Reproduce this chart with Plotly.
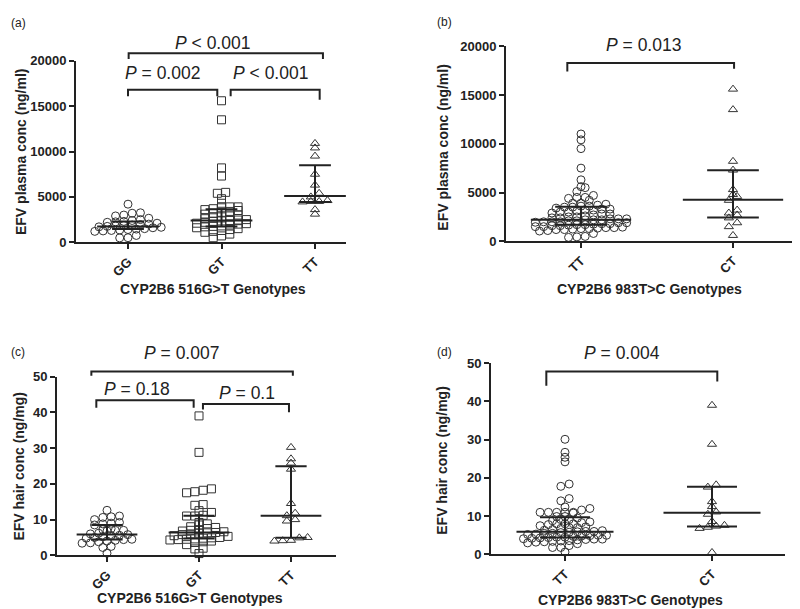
import numpy as np
import plotly.graph_objects as go

W, H = 800, 609
FONT = "Liberation Sans, Arial, sans-serif"
INK = "#222222"

# ---------------- data ----------------
# Panel (a): EFV plasma conc by CYP2B6 516G>T
a_categories = ["GG", "GT", "TT"]
a_GG = [4200, 3250, 3200, 3000, 2900, 2650, 2500, 2400, 2300, 2250, 2200, 2100, 2000, 1950,
        1900, 1850, 1800, 1750, 1700, 1650, 1600, 1500, 1450, 1400, 1350, 1300, 1250, 1200,
        750, 500, 480]
a_GT = [15600, 13500, 8200, 7300, 5500, 5400, 4800, 4300, 3900, 3900, 3800, 3700, 3600, 3500,
        3400, 3300, 3200, 3100, 3000, 2900, 2800, 2700, 2600, 2500, 2450, 2400, 2350, 2300,
        2200, 2100, 2050, 2000, 1900, 1800, 1750, 1700, 1600, 1500, 1400, 1300, 1200, 1100,
        900, 700, 500]
a_TT = [10900, 10400, 9500, 7500, 6300, 5400, 5000, 4600, 4500, 4500, 4450, 3600, 3100]
a_median = [1750, 2400, 5090]
a_q1 = [1470, 1750, 4440]
a_q3 = [2290, 3650, 8490]

# Panel (b): EFV plasma conc by CYP2B6 983T>C
b_categories = ["TT", "CT"]
b_TT = [11000, 10400, 9500, 7500, 6300, 5600, 5500, 5100, 4700, 4500, 4500, 4400,
        4200, 3900, 3900, 3800, 3700, 3600, 3600, 3500, 3500, 3400, 3300, 3300, 3200, 3200,
        3100, 3000, 3000,
        2900, 2800, 2800, 2700, 2600, 2500, 2500, 2400, 2400, 2300, 2300, 2300, 2200, 2200,
        2200, 2100, 2100, 2000, 2000, 2000,
        1950, 1900, 1900, 1800, 1800, 1750, 1700, 1700, 1650, 1600, 1600, 1500, 1500, 1450,
        1400, 1400, 1350, 1300, 1300, 1250, 1200, 1200, 1100, 1050,
        800, 500, 450, 400]
b_CT = [15600, 13500, 8200, 7300, 5300, 4800, 4600, 4200, 3200, 2900, 2700, 2400, 1900, 1500, 600]
b_median = [2200, 4270]
b_q1 = [1700, 2430]
b_q3 = [3530, 7270]

# Panel (c): EFV hair conc by CYP2B6 516G>T
c_categories = ["GG", "GT", "TT"]
c_GG = [12.6, 11.0, 10.8, 10.6, 10.0, 9.2, 9.0, 8.8, 8.5, 7.5, 7.2, 7.0, 7.0, 6.8, 6.2, 6.0,
        5.8, 5.6, 5.5, 5.2, 5.0, 4.8, 4.5, 4.4, 4.2, 4.0, 3.8, 3.5, 3.4, 2.5, 2.2, 0.6]
c_GT = [39.0, 28.8, 18.6, 18.2, 17.8, 17.5, 14.2, 14.0, 12.5, 12.0, 11.2, 11.0, 11.0, 9.2,
        8.8, 8.5, 8.0, 7.8, 7.5, 7.2, 7.0, 6.8, 6.6, 6.4, 6.3, 6.2, 6.0, 5.8, 5.5, 5.3, 5.0,
        4.9, 4.8, 4.6, 4.5, 4.4, 4.3, 4.0, 3.8, 3.6, 3.0, 2.0, 1.8, 0.5]
c_TT = [30.2, 27.0, 25.8, 24.1, 14.5, 11.8, 11.1, 10.0, 9.6, 5.0, 4.9, 4.2, 4.1, 4.0]
c_median = [5.8, 6.4, 11.1]
c_q1 = [4.4, 4.7, 4.9]
c_q3 = [8.5, 11.1, 24.9]

# Panel (d): EFV hair conc by CYP2B6 983T>C
d_categories = ["TT", "CT"]
d_TT = [30.1, 26.7, 25.4, 24.2, 18.4, 17.8, 14.6, 14.0, 12.4, 12.0, 11.6, 11.0, 11.0, 11.0,
        11.0, 11.0, 10.8, 9.9, 9.9, 9.5, 9.1, 9.1, 8.8, 8.5, 8.3, 8.0, 8.0, 8.0, 7.8, 7.5,
        7.2, 7.0, 7.0, 6.8, 6.5, 6.3, 6.2, 6.0, 6.0, 5.9, 5.8, 5.7, 5.5, 5.5, 5.3, 5.2, 5.0,
        5.0, 4.9, 4.8, 4.7, 4.5, 4.5, 4.4, 4.3, 4.2, 4.1, 4.0, 4.0, 3.9, 3.8, 3.6, 3.5, 3.4,
        3.3, 3.2, 3.0, 2.8, 2.3, 1.8, 1.8, 0.6]
d_CT = [39.0, 28.8, 18.2, 17.6, 13.8, 12.5, 11.1, 10.5, 8.6, 7.6, 7.4, 7.1, 6.8, 0.5]
d_median = [5.9, 10.9]
d_q1 = [4.4, 7.3]
d_q3 = [9.7, 17.7]

# ---------------- layout geometry (pixels) ----------------
panels = [
    dict(key="", cats=a_categories, groups=[a_GG, a_GT, a_TT],
         symbols=["circle-open", "square-open", "triangle-up-open"],
         med=a_median, q1=a_q1, q3=a_q3,
         x0=68, x1=338, ytop=47, ybot=233, cpx=[120, 307], ymax=20000, dtick=5000,
         ytitle="EFV plasma conc (ng/ml)", xtitle="CYP2B6 516G>T Genotypes",
         ytitle_pos=(12.5, 141), xtitle_pos=(205, 281), label="(a)", label_pos=(1, 8)),
    dict(key="2", cats=b_categories, groups=[b_TT, b_CT],
         symbols=["circle-open", "triangle-up-open"],
         med=b_median, q1=b_q1, q3=b_q3,
         x0=498, x1=800, ytop=32, ybot=232, cpx=[573, 725], ymax=20000, dtick=5000,
         ytitle="EFV plasma conc (ng/ml)", xtitle="CYP2B6 983T>C Genotypes",
         ytitle_pos=(435, 136), xtitle_pos=(641, 281), label="(b)", label_pos=(427, 7)),
    dict(key="3", cats=c_categories, groups=[c_GG, c_GT, c_TT],
         symbols=["circle-open", "square-open", "triangle-up-open"],
         med=c_median, q1=c_q1, q3=c_q3,
         x0=49, x1=328, ytop=370.7, ybot=554, cpx=[99, 283], ymax=50, dtick=10,
         ytitle="EFV hair conc (ng/mg)", xtitle="CYP2B6 516G>T Genotypes",
         ytitle_pos=(11, 463), xtitle_pos=(182, 598), label="(c)", label_pos=(1, 346)),
    dict(key="4", cats=d_categories, groups=[d_TT, d_CT],
         symbols=["circle-open", "triangle-up-open"],
         med=d_median, q1=d_q1, q3=d_q3,
         x0=483, x1=777, ytop=357, ybot=553, cpx=[557, 704], ymax=50, dtick=10,
         ytitle="EFV hair conc (ng/mg)", xtitle="CYP2B6 983T>C Genotypes",
         ytitle_pos=(434, 457), xtitle_pos=(622, 600), label="(d)", label_pos=(427, 345)),
]

# brackets: (panel, x-left cat, x-right cat, y bar, y left leg end, y right leg end, text, text x cat, text y)
brackets = [
    (0, 0.007, 2.085, 20830, 20215, 20215, "<i>P</i> < 0.001", 0.90, 21940),
    (0, 0.0, 0.955, 16800, 16100, 16100, "<i>P</i> = 0.002", 0.364, 18710),
    (0, 1.098, 2.05, 16800, 16100, 15700, "<i>P</i> < 0.001", 1.52, 18710),
    (1, -0.09, 1.007, 18270, 17400, 17700, "<i>P</i> = 0.013", 0.413, 20130),
    (2, -0.17, 2.02, 51.4, 50.2, 50.2, "<i>P</i> = 0.007", 0.812, 56.6),
    (2, -0.116, 0.942, 43.4, 41.3, 41.3, "<i>P</i> = 0.18", 0.326, 46.6),
    (2, 1.043, 1.978, 42.3, 40.8, 40.0, "<i>P</i> = 0.1", 1.52, 45.5),
    (3, -0.127, 1.036, 47.8, 44.1, 45.2, "<i>P</i> = 0.004", 0.388, 52.6),
]


def swarm(values, px_per_unit, px_per_cat, row=4.2, col=8.3):
    """GraphPad-like row layout: points in the same row band spread symmetrically."""
    ys = np.asarray(values, dtype=float) * px_per_unit
    order = np.argsort(ys)
    xs = np.zeros(len(ys))
    rows = []
    for i in order:
        if rows and ys[i] - ys[rows[-1][0]] < row:
            rows[-1].append(i)
        else:
            rows.append([i])
    for r in rows:
        n = len(r)
        for j, i in enumerate(r):
            xs[i] = (j - (n - 1) / 2) * col
    return xs / px_per_cat


fig = go.Figure()
layout = dict(width=W, height=H, margin=dict(l=0, r=0, t=0, b=0),
              paper_bgcolor="white", plot_bgcolor="white", showlegend=False)
shapes, annotations = [], []

for p in panels:
    n = len(p["cats"])
    sp = (p["cpx"][1] - p["cpx"][0]) / (n - 1)
    r0 = -(p["cpx"][0] - p["x0"]) / sp
    r1 = (p["x1"] - p["cpx"][0]) / sp
    p["r"] = (r0, r1)
    dx = (p["x0"] / W, p["x1"] / W)
    dy = (1 - p["ybot"] / H, 1 - p["ytop"] / H)
    p["dx"], p["dy"] = dx, dy
    px_per_unit = (p["ybot"] - p["ytop"]) / p["ymax"]
    k = p["key"]
    xa, ya = "x" + k, "y" + k

    for i, (vals, sym) in enumerate(zip(p["groups"], p["symbols"])):
        offs = swarm(vals, px_per_unit, sp)
        fig.add_trace(go.Scatter(
            x=i + offs, y=vals, mode="markers", xaxis=xa, yaxis=ya, cliponaxis=False,
            marker=dict(symbol=sym, size=8, color="#333333", line=dict(width=1, color="#333333")),
            hoverinfo="y"))

    lx, ly = [], []
    for i in range(n):
        lx += [i - 0.33, i + 0.33, None, i - 0.17, i + 0.17, None, i - 0.17, i + 0.17, None, i, i, None]
        ly += [p["med"][i], p["med"][i], None, p["q1"][i], p["q1"][i], None,
               p["q3"][i], p["q3"][i], None, p["q1"][i], p["q3"][i], None]
    fig.add_trace(go.Scatter(x=lx, y=ly, mode="lines", xaxis=xa, yaxis=ya,
                             line=dict(color=INK, width=2), hoverinfo="skip"))

    axis_common = dict(showline=True, linewidth=2, linecolor=INK, showgrid=False, zeroline=False,
                       ticks="outside", ticklen=5, tickwidth=2, tickcolor=INK)
    layout["xaxis" + k] = dict(domain=list(dx), range=[r0, r1], anchor=ya,
                               tickvals=list(range(n)), ticktext=p["cats"], tickangle=-45,
                               tickfont=dict(family=FONT, size=13, color=INK, weight="bold"),
                               **axis_common)
    layout["yaxis" + k] = dict(domain=list(dy), range=[0, p["ymax"]], anchor=xa,
                               tickvals=list(np.arange(0, p["ymax"] + 1, p["dtick"])),
                               tickformat="d",
                               tickfont=dict(family=FONT, size=13, color=INK, weight="bold"),
                               **axis_common)

    annotations.append(dict(x=p["ytitle_pos"][0] / W, y=1 - p["ytitle_pos"][1] / H, xref="paper",
                            yref="paper", text=p["ytitle"], showarrow=False, textangle=-90,
                            font=dict(family=FONT, size=14, color=INK, weight="bold"),
                            xanchor="center", yanchor="middle"))
    annotations.append(dict(x=p["xtitle_pos"][0] / W, y=1 - p["xtitle_pos"][1] / H, xref="paper",
                            yref="paper", text=p["xtitle"], showarrow=False,
                            font=dict(family=FONT, size=14, color=INK, weight="bold"),
                            xanchor="center", yanchor="middle"))
    annotations.append(dict(x=p["label_pos"][0] / W, y=1 - p["label_pos"][1] / H, xref="paper",
                            yref="paper", text=p["label"], showarrow=False,
                            font=dict(family=FONT, size=12, color=INK),
                            xanchor="left", yanchor="middle"))


def to_paper(p, xc, yv):
    r0, r1 = p["r"]
    xp = p["dx"][0] + (xc - r0) / (r1 - r0) * (p["dx"][1] - p["dx"][0])
    yp = p["dy"][0] + yv / p["ymax"] * (p["dy"][1] - p["dy"][0])
    return xp, yp


for (pi, xl, xr, yh, yl, yr, txt, tx, ty) in brackets:
    p = panels[pi]
    x1p, yl_p = to_paper(p, xl, yl)
    x2p, yr_p = to_paper(p, xr, yr)
    _, yh_p = to_paper(p, xl, yh)
    shapes.append(dict(type="path", xref="paper", yref="paper",
                       path=f"M {x1p},{yl_p} L {x1p},{yh_p} L {x2p},{yh_p} L {x2p},{yr_p}",
                       line=dict(color=INK, width=2)))
    txp, typ = to_paper(p, tx, ty)
    annotations.append(dict(x=txp, y=typ, xref="paper", yref="paper", text=txt, showarrow=False,
                            font=dict(family=FONT, size=17.5, color=INK),
                            xanchor="center", yanchor="middle"))

layout["shapes"] = shapes
layout["annotations"] = annotations
fig.update_layout(**layout)
fig.write_html("out.html")
